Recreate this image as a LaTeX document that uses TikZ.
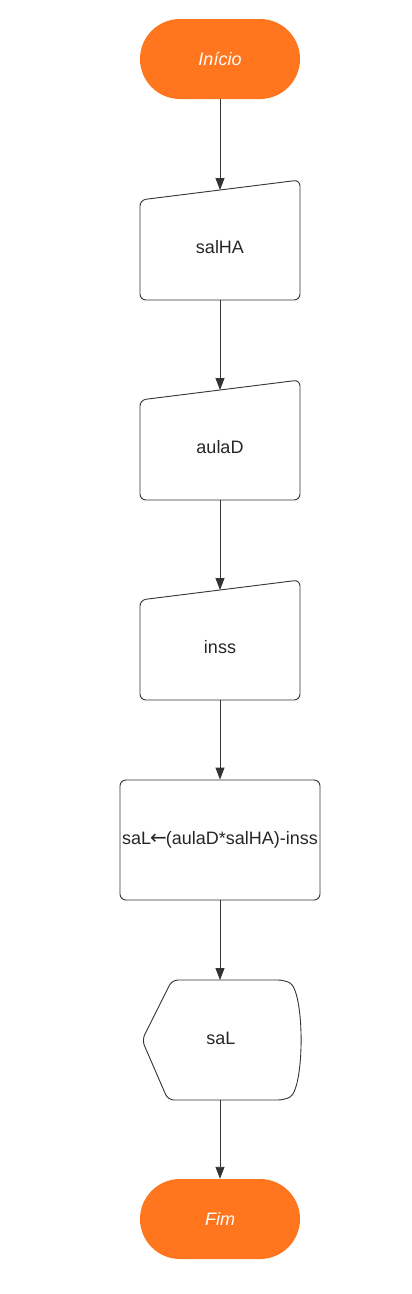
\documentclass[tikz,border=0pt]{standalone}
\usepackage{fontspec}
\setmainfont{Liberation Sans}
\usetikzlibrary{arrows.meta}
\definecolor{termorange}{HTML}{FF761F}
\definecolor{linegray}{HTML}{333333}

\begin{document}
\begin{tikzpicture}[x=1pt, y=-1pt,
    flow/.style={-{Triangle[length=12pt,width=9pt]}, color=linegray, line width=0.9pt},
    box/.style={draw=linegray, line width=0.9pt, rounded corners=6pt},
    txt/.style={font=\fontsize{18}{20}\selectfont, text=black!85},
    terminal/.style={fill=termorange, rectangle, rounded corners=40pt, minimum width=160pt,
      minimum height=80pt, font=\fontsize{18}{20}\selectfont\itshape, text=white}]
   \useasboundingbox (0,0) rectangle (412,1294);
   % start and end
   \node[terminal] (inicio) at (220,59) {Início};
   \node[terminal] (fim) at (220,1219) {Fim};
   % manual inputs
   \draw[box] (140,200) -- (300,180) -- (300,300) -- (140,300) -- cycle;
   \node[txt] (salHA) at (220,247) {salHA};
   \coordinate (salHAtop) at (220,190);
   \coordinate (salHAbot) at (220,300);
   \draw[box] (140,400) -- (300,380) -- (300,500) -- (140,500) -- cycle;
   \node[txt] (aulaD) at (220,447) {aulaD};
   \coordinate (aulaDtop) at (220,390);
   \coordinate (aulaDbot) at (220,500);
   \draw[box] (140,600) -- (300,580) -- (300,700) -- (140,700) -- cycle;
   \node[txt] (inss) at (220,647) {inss};
   \coordinate (insstop) at (220,590);
   \coordinate (inssbot) at (220,700);
   % process
   \node[box, txt, minimum width=200pt, minimum height=120pt, inner sep=0pt] (calc) at (220,840)
     {saL{\fontspec{DejaVu Sans}\fontsize{20}{20}\selectfont\kern-1pt←\kern-1pt}(aulaD*salHA)-inss};
   % display
   \draw[box] (172,980) -- (284,980) .. controls (305,990) and (305,1090) .. (284,1100)
     -- (168,1100) -- (142,1040) -- cycle;
   \node[txt] (saL) at (221,1038) {saL};
   \coordinate (saLtop) at (220,980);
   \coordinate (saLbot) at (220,1100);
   % connectors
   \draw[flow] (inicio.south) -- (salHAtop);
   \draw[flow] (salHAbot) -- (aulaDtop);
   \draw[flow] (aulaDbot) -- (insstop);
   \draw[flow] (inssbot) -- (calc.north);
   \draw[flow] (calc.south) -- (saLtop);
   \draw[flow] (saLbot) -- (fim.north);
\end{tikzpicture}
\end{document}
